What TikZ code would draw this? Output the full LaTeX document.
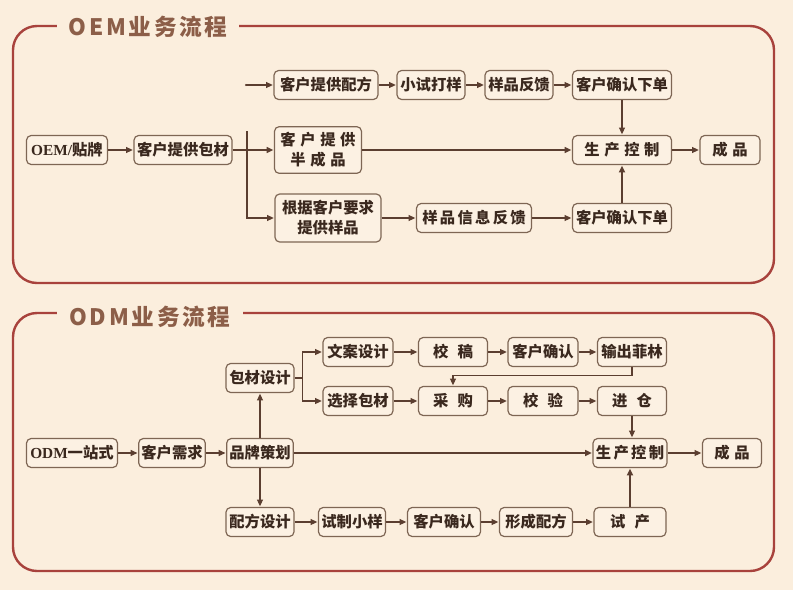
\documentclass[tikz,border=0pt]{standalone}
\usepackage{fontspec}
\setmainfont{Liberation Serif}
\newfontfamily\cjk{Noto Sans CJK SC}
\usetikzlibrary{arrows.meta}
\definecolor{bgc}{HTML}{FBEEDD}
\definecolor{boxf}{HTML}{FCF1E3}
\definecolor{framec}{HTML}{A8423C}
\definecolor{titlec}{HTML}{8C5E48}
\definecolor{boxc}{HTML}{7E6654}
\definecolor{txtc}{HTML}{3A281E}
\definecolor{linec}{HTML}{5B3E30}
\newcommand\gp{\hspace{0.3em}}
\newcommand\gs{\hspace{0.15em}}
\newcommand\gq{\hspace{0.6em}}
\tikzset{
 box/.style={draw=boxc,line width=0.9pt,rounded corners=3.5pt,fill=boxf,text=txtc,
   font=\cjk\bfseries\fontsize{11.5}{15}\selectfont,minimum height=21.75pt,
   inner xsep=2pt,inner ysep=2pt,align=center},
 bw/.style={minimum width=#1*0.75pt},
 ln/.style={draw=linec,line width=0.8pt},
 ar/.style={ln,-{Triangle[length=5pt,width=4.5pt]},shorten >=0.5pt},
 frame/.style={draw=framec,line width=1.8pt,rounded corners=18pt},
 ttl/.style={fill=bgc,text=titlec,inner xsep=9pt,
   font=\cjk\bfseries\fontsize{17}{20}\selectfont\addfontfeature{LetterSpace=12}}
}
\begin{document}
\begin{tikzpicture}[x=0.75pt,y=-0.75pt]
\useasboundingbox[fill=bgc] (0,0) rectangle (793,590);
% OEM
\draw[frame] (13,26) rectangle (774,283);
\node[ttl] (t1) at (148,27) {OEM业务流程};
\node[box,bw=81] (oem) at (67,150) {{\rmfamily OEM/}贴牌};
\node[box,bw=98] (bc) at (183,150) {客户提供包材};
\node[box,bw=104] (pf) at (326,85) {客户提供配方};
\node[box,bw=68] (xs) at (431,85) {小试打样};
\node[box,bw=68] (fk) at (519,85) {样品反馈};
\node[box,bw=99] (qd1) at (622,85) {客户确认下单};
\node[box,bw=87,minimum height=35pt] (bcp) at (318,150) {客\gp 户\gp 提\gp 供\\半\gp 成\gp 品};
\node[box,bw=106,minimum height=36pt] (yp) at (328,218) {根据客户要求\\提供样品};
\node[box,bw=115] (xf) at (474,218) {样\gs 品\gs 信\gs 息\gs 反\gs 馈};
\node[box,bw=99] (qd2) at (622,218) {客户确认下单};
\node[box,bw=99] (sc1) at (622,150) {生\gp 产\gp 控\gp 制};
\node[box,bw=60] (cp1) at (730,150) {成\gp 品};
\coordinate (st) at (246,85);
\coordinate (sp) at (247,131);
\coordinate (sb) at (247,218);
\foreach \a/\b in {oem/bc,pf/xs,xs/fk,fk/qd1,yp/xf,xf/qd2,sc1/cp1,qd1/sc1}
  \draw[ar] (\a) -- (\b);
\fill[linec] (st) circle (0.9pt);
\draw[ar] (st) -- (pf);
\draw[ar] (sp) -- (sb) -- (yp);
\draw[ar,line width=1.1pt] (bc) -- (bcp);
\draw[ar,line width=1.1pt] (bcp) -- (sc1);
\draw[ar,line width=1.2pt] (qd2) -- (sc1);
% ODM
\draw[frame] (13,313) rectangle (774,571);
\node[ttl] (t2) at (150,317) {ODM业务流程};
\node[box,bw=91] (odm) at (72,453) {{\rmfamily ODM}一站式};
\node[box,bw=65] (xq) at (172,453) {客户需求};
\node[box,bw=65] (pp) at (260,453) {品牌策划};
\node[box,bw=68] (bs) at (260,378) {包材设计};
\node[box,bw=68] (ps) at (260,522) {配方设计};
\node[box,bw=70] (wa) at (358,352) {文案设计};
\node[box,bw=70] (xz) at (358,401) {选择包材};
\node[box,bw=69] (jg) at (453,352) {校\gq 稿};
\node[box,bw=70] (kq1) at (543,352) {客户确认};
\node[box,bw=69] (fl) at (632,352) {输出菲林};
\node[box,bw=69] (cg) at (453,401) {采\gq 购};
\node[box,bw=70] (jy) at (543,401) {校\gq 验};
\node[box,bw=69] (jc) at (632,401) {进\gq 仓};
\node[box,bw=74] (sc2) at (630,453) {生\gs 产\gs 控\gs 制};
\node[box,bw=59] (cp2) at (732,453) {成\gp 品};
\node[box,bw=67] (sx) at (352,522) {试制小样};
\node[box,bw=73] (qr2) at (444,522) {客户确认};
\node[box,bw=73] (xc) at (536,522) {形成配方};
\node[box,bw=72] (sy) at (630,522) {试\gq 产};
\foreach \a/\b in {odm/xq,xq/pp,pp/bs,pp/ps,wa/jg,jg/kq1,kq1/fl,xz/cg,cg/jy,jy/jc,ps/sx,sx/qr2,qr2/xc,xc/sy,sc2/cp2}
  \draw[ar] (\a) -- (\b);
\draw[ln] (bs.east) -- ++(8,0) coordinate (bj);
\draw[ar] (bj) |- (wa);
\draw[ar] (bj) |- (xz);
\draw[ar] (fl.south) -- ++(0,8) -| (cg.north);
\draw[ar] (jc) -- (jc |- sc2.north);
\draw[ar,line width=1.1pt] (pp) -- (sc2);
\draw[ar,line width=1.2pt] (sy) -- (sc2);
\end{tikzpicture}
\end{document}
